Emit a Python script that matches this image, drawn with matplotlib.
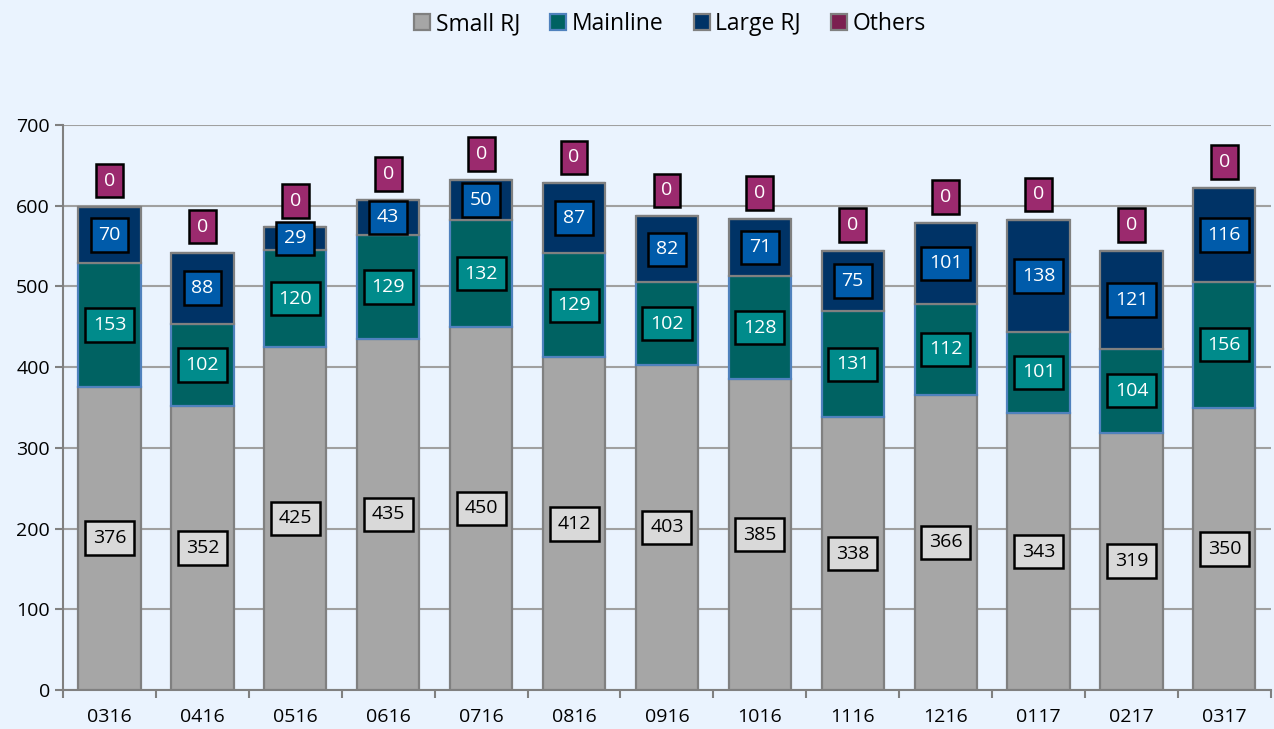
import matplotlib
matplotlib.use("Agg")
import matplotlib.pyplot as plt
import numpy as np

months = ['0316', '0416', '0516', '0616', '0716', '0816', '0916',
          '1016', '1116', '1216', '0117', '0217', '0317']
small_rj = [376, 352, 425, 435, 450, 412, 403, 385, 338, 366, 343, 319, 350]
mainline = [153, 102, 120, 129, 132, 129, 102, 128, 131, 112, 101, 104, 156]
large_rj = [70, 88, 29, 43, 50, 87, 82, 71, 75, 101, 138, 121, 116]
others = [0] * 13

plt.rcParams['font.family'] = ['Open Sans', 'DejaVu Sans']
bg = '#EAF3FE'

fig = plt.figure(figsize=(12.74, 7.29), dpi=100, facecolor=bg)
ax = fig.add_axes([0.0495, 0.0535, 0.948, 0.775], facecolor=bg)

x = np.arange(len(months))
w = 0.67
small = np.array(small_rj)
main = np.array(mainline)
large = np.array(large_rj)
oth = np.array(others)

series = [
    ('Small RJ', small, np.zeros(13), '#A6A6A6', '#808080', '#D9D9D9', 'black'),
    ('Mainline', main, small, '#006262', '#4F81BD', '#008B8B', 'white'),
    ('Large RJ', large, small + main, '#003366', '#808080', '#005BAA', 'white'),
    ('Others', oth, small + main + large, '#7B1F50', '#808080', '#9B2A6E', 'white'),
]

for name, vals, bottom, fc, ec, boxc, txtc in series:
    ax.bar(x, vals, w, bottom=bottom, color=fc, edgecolor=ec, linewidth=1.6,
           label=name, zorder=3)
    for i in range(len(x)):
        if name == 'Others':
            ypos = bottom[i] + vals[i] + 32
        else:
            ypos = bottom[i] + vals[i] / 2
        ax.text(x[i], ypos, str(vals[i]), ha='center', va='center', fontsize=14,
                color=txtc, zorder=5,
                bbox=dict(boxstyle='square,pad=0.4', fc=boxc, ec='black', lw=1.8))

ax.set_ylim(0, 700)
ax.set_xlim(-0.5, 12.5)
ax.set_yticks(range(0, 701, 100))
ax.yaxis.grid(True, color='#A0A0A0', linewidth=1.5, zorder=0)
ax.set_axisbelow(True)
ax.set_xticks(x)
ax.set_xticklabels(months, fontsize=14)
ax.set_xticks(np.arange(-0.5, 13, 1), minor=True)
ax.tick_params(axis='x', which='major', length=0, pad=13)
ax.tick_params(axis='x', which='minor', length=6, color='#808080', width=1.5)
ax.tick_params(axis='y', length=6, color='#808080', width=1.5, labelsize=14)
for s in ['top', 'right']:
    ax.spines[s].set_visible(False)
for s in ['left', 'bottom']:
    ax.spines[s].set_color('#808080')
    ax.spines[s].set_linewidth(1.5)

leg = fig.legend(loc='upper center', bbox_to_anchor=(0.526, 1.012), ncol=4,
                 frameon=False, fontsize=16.5, handlelength=0.7, handleheight=0.7,
                 handletextpad=0.25, columnspacing=1.3)

fig.savefig('out.png', dpi=100, facecolor=bg)
